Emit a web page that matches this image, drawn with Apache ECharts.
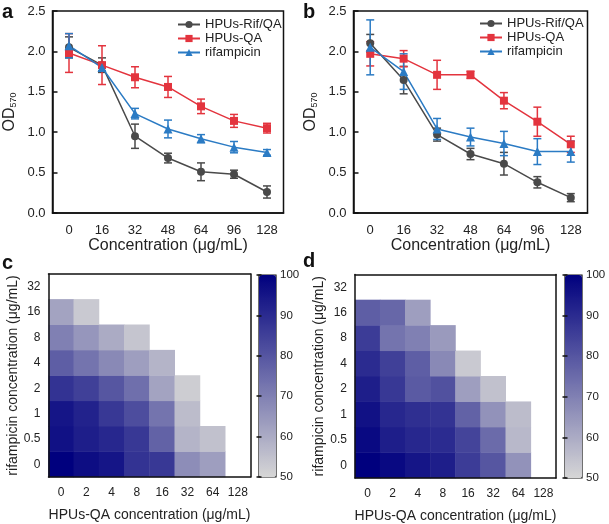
<!DOCTYPE html>
<html><head><meta charset="utf-8">
<script src="https://cdn.jsdelivr.net/npm/echarts@6/dist/echarts.min.js"></script>
<style>html,body{margin:0;padding:0;background:#fff}#c{width:609px;height:524px}</style>
</head><body><div id="c"></div><script>
// ---- Data ----
const concentrations = ['0','16','32','48','64','96','128'];
const seriesNames = ['HPUs-Rif/QA','HPUs-QA','rifampicin'];
// panel a
const aRifQA    = [2.05,1.83,0.95,0.68,0.51,0.48,0.26];
const aRifQAErr = [0.13,0.09,0.15,0.06,0.11,0.05,0.075];
const aQA       = [1.98,1.83,1.68,1.56,1.32,1.14,1.05];
const aQAErr    = [0.24,0.24,0.13,0.13,0.09,0.08,0.06];
const aRif      = [2.07,1.80,1.23,1.04,0.92,0.815,0.75];
const aRifErr   = [0.15,0.04,0.065,0.11,0.05,0.07,0.035];
// panel b
const bRifQA    = [2.10,1.645,0.97,0.73,0.61,0.38,0.19];
const bRifQAErr = [0.11,0.17,0.08,0.07,0.14,0.07,0.05];
const bQA       = [1.97,1.91,1.71,1.71,1.39,1.13,0.85];
const bQAErr    = [0.15,0.10,0.18,0.045,0.10,0.18,0.10];
const bRif      = [2.05,1.75,1.04,0.94,0.86,0.76,0.76];
const bRifErr   = [0.34,0.22,0.13,0.11,0.15,0.16,0.13];
// heatmaps (rows: rifampicin conc., columns: HPUs-QA conc.)
const hpusQA = ['0','2','4','8','16','32','64','128'];
const rifConc = ['0','0.5','1','2','4','8','16','32'];
const cMatrix = [
  [100,97,95,88,87,67,63,null],
  [96,93,91,87,77,58,55,null],
  [95,92,87,82,73,56,null,null],
  [88,85,80,74,62,52,null,null],
  [78,73,68,63,58,null,null,null],
  [70,65,60,54,null,null,null,null],
  [62,53,null,null,null,null,null,null],
  [null,null,null,null,null,null,null,null]
];
const dMatrix = [
  [100,98,95,93,86,80,66,null],
  [98,93,91,90,84,75,57,null],
  [96,91,89,88,77,66,56,null],
  [93,87,79,81,63,55,null,null],
  [90,85,78,68,53,null,null,null],
  [86,73,70,64,null,null,null,null],
  [78,76,63,null,null,null,null,null],
  [null,null,null,null,null,null,null,null]
];
const colorbarTicks = [50,60,70,80,90,100];

// ---- Styles ----
const FONT = 'Liberation Sans, Arial, sans-serif';
const colors = ['#4a4a4a','#e3343e','#2b7bc4'];
const symbols = ['circle','rect','triangle'];
const symbolSizes = [8,8,9];
const cmap = ['#d6d6d6','#00007e'];

function toHeat(m){
  const out=[];
  m.forEach((row,yi)=>row.forEach((v,xi)=>{ if(v!==null) out.push([xi,yi,v]); }));
  return out;
}
function errData(vals,errs){ return vals.map((v,i)=>[i,v,errs[i]]); }
function errRender(color){
  return function(params, api){
    const x=api.value(0), v=api.value(1), e=api.value(2);
    const hi=api.coord([x,v+e]), lo=api.coord([x,v-e]);
    const hw=4;
    const st={stroke:color,lineWidth:1.5};
    return {type:'group',children:[
      {type:'line',shape:{x1:hi[0],y1:hi[1],x2:lo[0],y2:lo[1]},style:st},
      {type:'line',shape:{x1:hi[0]-hw,y1:hi[1],x2:hi[0]+hw,y2:hi[1]},style:st},
      {type:'line',shape:{x1:lo[0]-hw,y1:lo[1],x2:lo[0]+hw,y2:lo[1]},style:st}
    ]};
  };
}

const grids = [
  {left:52.5,top:11,width:231,height:202},
  {left:353.5,top:11,width:234,height:202},
  {left:48.5,top:274,width:202,height:203},
  {left:355,top:274.5,width:201,height:203.5},
  {left:259,top:275,width:17,height:202},
  {left:565,top:275,width:17,height:203}
].map(g=>Object.assign({containLabel:false},g));
grids[0].show=true; grids[0].borderColor='#111'; grids[0].borderWidth=1.5;
grids[1].show=true; grids[1].borderColor='#111'; grids[1].borderWidth=1.5;
grids[4].show=true; grids[4].borderColor='#111'; grids[4].borderWidth=1.2;
grids[5].show=true; grids[5].borderColor='#111'; grids[5].borderWidth=1.2;

const axisLine = {show:true,lineStyle:{color:'#111',width:1.5}};
const xAxes=[], yAxes=[];
[0,1].forEach(g=>{
  xAxes.push({gridIndex:g,type:'category',data:concentrations,boundaryGap:true,
    axisLine:axisLine,axisTick:{inside:true,alignWithLabel:true,length:5,lineStyle:{color:'#111',width:1.5}},
    axisLabel:{fontSize:13,color:'#222',margin:11,fontFamily:FONT,interval:0},
    name:'Concentration (μg/mL)',nameLocation:'middle',nameGap:25,
    nameTextStyle:{fontSize:16,color:'#222',fontFamily:FONT}});
  yAxes.push({gridIndex:g,type:'value',min:0,max:2.5,interval:0.5,
    axisLine:axisLine,axisTick:{show:true,inside:true,length:5,lineStyle:{color:'#111',width:1.5}},
    splitLine:{show:false},
    axisLabel:{fontSize:13,color:'#222',margin:7,fontFamily:FONT,formatter:v=>v.toFixed(1)},
    name:'OD{sub|570}',nameLocation:'middle',nameGap:34,
    nameTextStyle:{fontSize:16,color:'#222',fontFamily:FONT,
      rich:{sub:{fontSize:9,color:'#222',verticalAlign:'bottom',padding:[8,0,0,0],fontFamily:FONT}}}});
});
[2,3].forEach(g=>{
  xAxes.push({gridIndex:g,type:'category',data:hpusQA,boundaryGap:true,z:10,
    axisLine:axisLine,axisTick:{inside:false,alignWithLabel:true,interval:0,length:5,lineStyle:{color:'#111',width:1.5}},
    axisLabel:{fontSize:12,color:'#222',margin:10,fontFamily:FONT,interval:0},
    name:'HPUs-QA concentration (μg/mL)',nameLocation:'middle',nameGap:31,
    nameTextStyle:{fontSize:14,color:'#222',fontFamily:FONT}});
  yAxes.push({gridIndex:g,type:'category',data:rifConc,boundaryGap:true,z:10,
    axisLine:axisLine,axisTick:{inside:false,alignWithLabel:true,interval:0,length:5,lineStyle:{color:'#111',width:1.5}},
    axisLabel:{fontSize:12,color:'#222',margin:8,fontFamily:FONT,interval:0},
    name:'rifampicin concentration (μg/mL)',nameLocation:'middle',nameGap:28,
    nameTextStyle:{fontSize:14,color:'#222',fontFamily:FONT}});
});
// colorbar axes
[4,5].forEach(g=>{
  xAxes.push({gridIndex:g,type:'value',min:0,max:1,show:false});
  yAxes.push({gridIndex:g,type:'value',min:50,max:100,interval:10,position:'right',z:10,
    axisLine:{show:false},axisTick:{show:true,inside:true,length:2.5,lineStyle:{color:'#111',width:1.5}},
    splitLine:{show:false},
    axisLabel:{fontSize:11.5,color:'#222',margin:4,fontFamily:FONT,
      formatter:v=>colorbarTicks.includes(v)?String(v):''}});
});
// frame axes for heatmaps (top/right borders) and colorbar left ticks
[2,3].forEach(g=>{
  xAxes.push({gridIndex:g,type:'category',data:hpusQA,position:'top',z:10,
    axisLine:axisLine,axisTick:{show:false},axisLabel:{show:false}});
  yAxes.push({gridIndex:g,type:'category',data:rifConc,position:'right',z:10,
    axisLine:axisLine,axisTick:{show:false},axisLabel:{show:false}});
});
[4,5].forEach(g=>{
  yAxes.push({gridIndex:g,type:'value',min:50,max:100,interval:10,position:'left',z:10,
    axisLine:{show:false},axisTick:{show:true,inside:true,length:2.5,lineStyle:{color:'#111',width:1.5}},
    splitLine:{show:false},axisLabel:{show:false}});
});

const series=[];
const panels=[[aRifQA,aQA,aRif],[bRifQA,bQA,bRif]];
const panelErr=[[aRifQAErr,aQAErr,aRifErr],[bRifQAErr,bQAErr,bRifErr]];
[0,1].forEach(g=>{
  panels[g].forEach((vals,k)=>{
    series.push({type:'custom',xAxisIndex:g,yAxisIndex:g,renderItem:errRender(colors[k]),
      data:errData(vals,panelErr[g][k]),encode:{x:0,y:1},z:3,silent:true});
  });
  panels[g].forEach((vals,k)=>{
    series.push({type:'line',name:seriesNames[k],xAxisIndex:g,yAxisIndex:g,data:vals,
      symbol:symbols[k],symbolSize:symbolSizes[k],showAllSymbol:true,
      lineStyle:{color:colors[k],width:1.5},itemStyle:{color:colors[k]},z:4,
      emphasis:{disabled:true}});
  });
});
const heatIdxC = series.length;
series.push({type:'heatmap',xAxisIndex:2,yAxisIndex:2,data:toHeat(cMatrix),z:2,emphasis:{disabled:true}});
const heatIdxD = series.length;
series.push({type:'heatmap',xAxisIndex:3,yAxisIndex:3,data:toHeat(dMatrix),z:2,emphasis:{disabled:true}});

const option={
  animation:false,
  textStyle:{fontFamily:FONT},
  grid:grids,
  xAxis:xAxes,
  yAxis:yAxes,
  legend:[
    {data:seriesNames,left:177,top:18,orient:'vertical',itemWidth:22,itemHeight:9,itemGap:1,
     textStyle:{fontSize:13,color:'#222',fontFamily:FONT},padding:0},
    {data:seriesNames,left:479,top:17,orient:'vertical',itemWidth:22,itemHeight:9,itemGap:1,
     textStyle:{fontSize:13,color:'#222',fontFamily:FONT},padding:0}
  ],
  visualMap:[
    {type:'continuous',seriesIndex:heatIdxC,dimension:2,min:50,max:100,calculable:false,
     inRange:{color:cmap},left:259,top:275,itemWidth:17,itemHeight:202,padding:0,text:null,
     showLabel:false,hoverLink:false},
    {type:'continuous',seriesIndex:heatIdxD,dimension:2,min:50,max:100,calculable:false,
     inRange:{color:cmap},left:565,top:275,itemWidth:17,itemHeight:203,padding:0,text:null,
     showLabel:false,hoverLink:false}
  ],
  graphic:[
    {type:'text',left:2,top:2,style:{text:'a',font:'bold 20px '+FONT,fill:'#111'}},
    {type:'text',left:303,top:2,style:{text:'b',font:'bold 20px '+FONT,fill:'#111'}},
    {type:'text',left:2,top:253,style:{text:'c',font:'bold 20px '+FONT,fill:'#111'}},
    {type:'text',left:303,top:251,style:{text:'d',font:'bold 20px '+FONT,fill:'#111'}}
  ],
  series:series
};
const chart=echarts.init(document.getElementById('c'),null,{renderer:'canvas'});
chart.setOption(option);
</script></body></html>
